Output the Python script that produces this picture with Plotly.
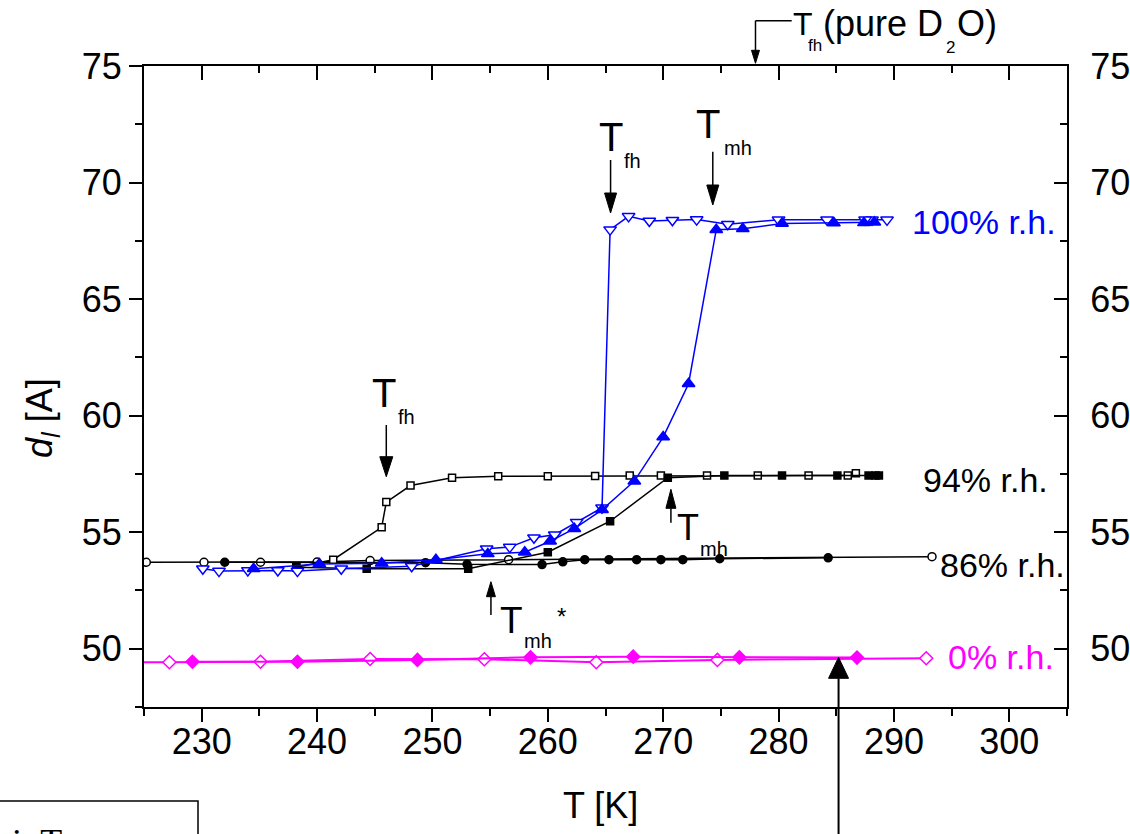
import plotly.graph_objects as go

# ---------------- data ----------------
# 100 % r.h.
rh100_cool_T = [289.4, 288.1, 287.5, 284.2, 280.0, 275.6, 272.9, 270.8, 268.8, 267.0, 265.4,
                264.7, 262.5, 260.6, 258.8, 256.7, 254.7, 248.2, 242.1, 238.3, 236.6, 234.0, 231.5, 230.1]
rh100_cool_d = [68.40, 68.40, 68.40, 68.40, 68.40, 68.21, 68.41, 68.38, 68.35, 68.55, 67.98,
                56.05, 55.43, 54.89, 54.76, 54.36, 54.29, 53.54, 53.43, 53.33, 53.36, 53.36, 53.33, 53.43]
rh100_heat_T = [234.5, 240.2, 245.6, 250.3, 254.8, 258.0, 260.2, 262.3, 264.7, 267.5, 270.0,
                272.2, 274.6, 276.9, 280.3, 284.8, 287.4, 288.3]
rh100_heat_d = [53.43, 53.64, 53.67, 53.82, 54.07, 54.14, 54.61, 55.15, 55.96, 57.19, 59.08,
                61.37, 67.98, 68.02, 68.24, 68.26, 68.27, 68.30]

# 94 % r.h.
rh94_cool_T = [286.7, 286.0, 282.6, 278.2, 273.8, 269.8, 267.1, 264.1, 260.0, 255.7, 251.7,
               248.1, 246.0, 245.6, 241.4, 238.2]
rh94_cool_d = [57.53, 57.43, 57.43, 57.43, 57.43, 57.43, 57.43, 57.41, 57.40, 57.40, 57.33,
               57.00, 56.29, 55.21, 53.82, 53.50]
rh94_heat_T = [238.2, 244.3, 253.1, 260.0, 265.4, 270.4, 275.3, 280.3, 285.1, 287.8, 288.4, 288.7]
rh94_heat_d = [53.50, 53.43, 53.43, 54.14, 55.47, 57.34, 57.43, 57.43, 57.43, 57.43, 57.43, 57.43]

# 86 % r.h.
rh86_cool_T = [293.3, 256.6, 244.6, 240.0, 235.1, 230.2, 225.2]
rh86_cool_d = [53.95, 53.82, 53.78, 53.72, 53.71, 53.71, 53.71]
rh86_heat_T = [232.0, 249.4, 253.0, 259.5, 261.3, 263.2, 265.3, 267.7, 269.8, 271.7, 274.9, 284.3]
rh86_heat_d = [53.71, 53.69, 53.62, 53.61, 53.73, 53.82, 53.82, 53.82, 53.82, 53.82, 53.86, 53.90]

# 0 % r.h.
rh0_cool_T = [292.8, 274.7, 264.2, 254.5, 244.6, 235.1, 227.2, 223.5]
rh0_cool_d = [49.59, 49.52, 49.42, 49.55, 49.56, 49.44, 49.42, 49.42]
rh0_heat_T = [229.2, 238.3, 248.7, 258.5, 267.4, 276.6, 286.8]
rh0_heat_d = [49.44, 49.44, 49.52, 49.63, 49.66, 49.63, 49.62]

series_labels = ["100% r.h.", "94% r.h.", "86% r.h.", "0% r.h."]

X_RANGE = [225, 305]
Y_RANGE = [47.5, 75]

BLUE = "#0000FF"
BLACK = "#000000"
MAGENTA = "#FF00FF"
FONT = "Liberation Sans, Arial, sans-serif"

# ---------------- figure geometry ----------------
W, H = 1130, 834
ML, MR, MT, MB = 144, 63, 66, 127
PW, PH = W - ML - MR, H - MT - MB


def xp(T):
    return (T - X_RANGE[0]) / (X_RANGE[1] - X_RANGE[0])


def ypix(py):
    return (H - MB - py) / PH


def xpix(px):
    return (px - ML) / PW


fig = go.Figure()


def add(T, d, color, symbol, filled, size, lw=1.5):
    fig.add_trace(go.Scatter(
        x=T, y=d, mode="lines+markers", showlegend=False,
        line=dict(color=color, width=lw),
        marker=dict(symbol=symbol, size=size, color=color if filled else "white",
                    line=dict(color=color, width=1.5)),
    ))


add(rh0_cool_T, rh0_cool_d, MAGENTA, "diamond", False, 10, 2)
add(rh0_heat_T, rh0_heat_d, MAGENTA, "diamond", True, 10, 2)
add(rh86_cool_T, rh86_cool_d, BLACK, "circle", False, 8)
add(rh86_heat_T, rh86_heat_d, BLACK, "circle", True, 8)
add(rh94_cool_T, rh94_cool_d, BLACK, "square", False, 7)
add(rh94_heat_T, rh94_heat_d, BLACK, "square", True, 7)
add(rh100_cool_T, rh100_cool_d, BLUE, "triangle-down", False, 11)
add(rh100_heat_T, rh100_heat_d, BLUE, "triangle-up", True, 11)

# invisible traces to carry the mirrored axes and the x tick-label axis
fig.add_trace(go.Scatter(x=[None], y=[None], xaxis="x2", yaxis="y2", showlegend=False,
                         mode="markers"))
fig.add_trace(go.Scatter(x=[None], y=[None], xaxis="x3", yaxis="y", showlegend=False,
                         mode="markers"))

tickfont = dict(family=FONT, size=36, color="black")
common = dict(showline=True, linewidth=2, linecolor="black", showgrid=False, zeroline=False,
              tickwidth=2, tickcolor="black", tickfont=tickfont, tickmode="linear",
              automargin=False, fixedrange=True)

fig.update_layout(
    width=W, height=H, margin=dict(l=ML, r=MR, t=MT, b=MB, autoexpand=False),
    paper_bgcolor="white", plot_bgcolor="white",
    font=dict(family=FONT, color="black"),
    xaxis=dict(range=X_RANGE, tick0=0, dtick=10, ticks="outside", ticklen=13,
               showticklabels=False,
               minor=dict(dtick=5, ticklen=7, ticks="outside", tickwidth=2, tickcolor="black"),
               **common),
    xaxis3=dict(range=X_RANGE, overlaying="x", side="bottom", anchor="y", tick0=0, dtick=10,
                ticks="", showline=False, showgrid=False, zeroline=False, showticklabels=True,
                ticklabelstandoff=10, tickfont=tickfont, tickmode="linear",
                automargin=False, fixedrange=True),
    xaxis2=dict(range=X_RANGE, overlaying="x", side="top", tick0=0, dtick=10, ticks="inside",
                ticklen=14, showticklabels=False,
                minor=dict(dtick=5, ticklen=7, ticks="inside", tickwidth=2, tickcolor="black"),
                **common),
    yaxis=dict(range=Y_RANGE, tick0=0, dtick=5, ticks="outside", ticklen=13,
               minor=dict(dtick=2.5, ticklen=7, ticks="outside", tickwidth=2, tickcolor="black"),
               **common),
    yaxis2=dict(range=Y_RANGE, overlaying="y", side="right", tick0=0, dtick=5, ticks="inside",
                ticklen=13, showticklabels=True, ticklabelstandoff=14,
                minor=dict(dtick=2.5, ticklen=7, ticks="inside", tickwidth=2, tickcolor="black"),
                **common),
)

annotations = []
shapes = []


def text(s, px, py, size, color="black", xanchor="center", family=FONT, angle=0):
    annotations.append(dict(text=s, x=xpix(px), y=ypix(py), xref="paper", yref="paper",
                            showarrow=False, xanchor=xanchor, yanchor="middle",
                            textangle=angle,
                            font=dict(family=family, size=size, color=color)))


def arrow(T, py_tail, py_tip, head_len, head_w, lw=1.5):
    x = xp(T)
    up = py_tip < py_tail
    base = py_tip + head_len if up else py_tip - head_len
    shapes.append(dict(type="line", xref="paper", yref="paper", x0=x, x1=x,
                       y0=ypix(py_tail), y1=ypix(base), line=dict(color="black", width=lw)))
    hw = head_w / 2 / PW
    path = "M {a},{b} L {c},{b} L {x},{t} Z".format(a=x - hw, c=x + hw, b=ypix(base), x=x, t=ypix(py_tip))
    shapes.append(dict(type="path", xref="paper", yref="paper", path=path,
                       fillcolor="black", line=dict(color="black", width=1)))


# transition arrows
arrow(246.0, 425, 476.7, 20, 13)
arrow(265.44, 160, 213, 20, 12)
arrow(274.3, 151.7, 205, 20, 12)
arrow(270.67, 522.7, 489.3, 19, 10)
arrow(255.07, 615, 581.7, 15, 9)
arrow(278.0, 20.7, 63.3, 13, 8)
arrow(285.2, 850, 657.3, 21, 20, 2)
# elbow of the pure D2O marker
shapes.append(dict(type="line", xref="paper", yref="paper", x0=xp(278.0), x1=xpix(791.7),
                   y0=ypix(20.7), y1=ypix(20.7), line=dict(color="black", width=1.5)))

# arrow labels
text("T", 384, 393, 40)
text("fh", 406, 417, 20)
text("T", 610.5, 137.5, 40)
text("fh", 632.5, 161, 20)
text("T", 707.5, 124, 40)
text("mh", 737.5, 148, 20)
text("T", 687.5, 527.5, 36)
text("mh", 714, 548.5, 20)
text("T", 511, 620, 37)
text("mh", 537.5, 641, 20)
text("*", 561, 616, 24)
text("T", 803, 24, 32)
text("fh", 815, 45.5, 17)
text("(pure D", 821, 24, 36, xanchor="left")
text("2", 950, 47.5, 17)
text("O)", 955, 24, 36, xanchor="left")

# series labels
text(series_labels[0], 910, 222, 34, BLUE, xanchor="left")
text(series_labels[1], 921, 480, 34, BLACK, xanchor="left")
text(series_labels[2], 938, 565, 34, BLACK, xanchor="left")
text(series_labels[3], 946, 657, 34, MAGENTA, xanchor="left")

# axis titles
text("T [K]", 600, 805, 36)
text("<i>d</i><sub><i>l</i></sub> [A]", 42, 418, 36, angle=-90)

# clipped box in the lower-left corner
shapes.append(dict(type="rect", xref="paper", yref="paper", x0=xpix(-5), x1=xpix(198),
                   y0=ypix(801), y1=ypix(860), line=dict(color="black", width=1.5)))
text("i: T", 10, 842, 36, xanchor="left", family="Liberation Serif, Times New Roman, serif")

fig.update_layout(annotations=annotations, shapes=shapes)
fig.write_html("out.html")
